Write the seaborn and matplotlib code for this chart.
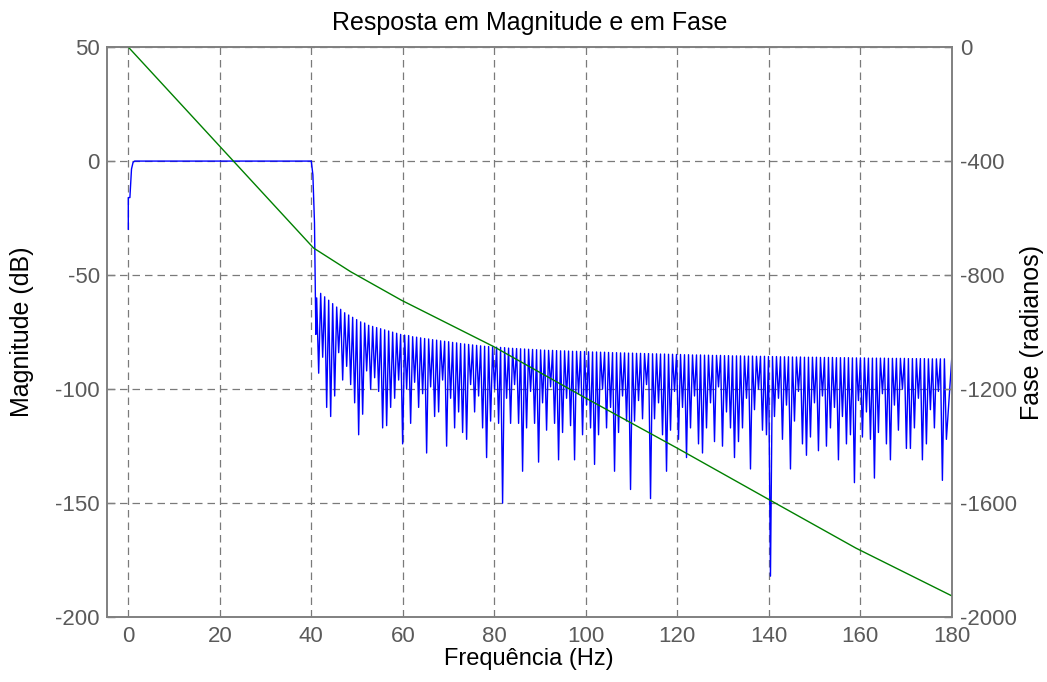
import numpy as np
import matplotlib
matplotlib.use("Agg")
import matplotlib.pyplot as plt
import seaborn as sns

# ---------------- data ----------------
# passband / transition part of the magnitude response (Hz, dB)
pass_freq = [0.0, 0.0, 0.35, 0.7, 1.05, 1.4, 40.0, 40.35, 40.7, 41.0]
pass_mag = [-30.0, -16.0, -16.0, -3.5, -0.5, 0.0, 0.0, -6.0, -27.0, -76.0]

# stopband: lobe tops and the nulls between them (one per lobe)
stop_start = 41.18   # Hz, first lobe
stop_step = 0.874    # Hz between lobes
stop_top = [
    -60, -58, -59.5, -61, -62.5, -64, -65, -66.5, -67.5, -68.5,
    -69.5, -70.5, -71, -72, -72.5, -73, -73.5, -74, -74.5, -75,
    -75.5, -76, -76.3, -76.5, -77, -77.2, -77.5, -77.8, -78, -78.3,
    -78.5, -78.8, -79, -79.2, -79.5, -79.7, -80, -80.2, -80.4, -80.6,
    -80.8, -81, -81.2, -81.3, -81.5, -81.6, -81.7, -81.8, -82, -82.1,
    -82.2, -82.3, -82.4, -82.5, -82.6, -82.7, -82.8, -82.9, -83, -83,
    -83.1, -83.2, -83.2, -83.3, -83.4, -83.4, -83.5, -83.5, -83.6, -83.7,
    -83.7, -83.8, -83.8, -83.9, -84, -84, -84.1, -84.1, -84.2, -84.2,
    -84.3, -84.3, -84.4, -84.4, -84.5, -84.5, -84.6, -84.6, -84.7, -84.7,
    -84.8, -84.8, -84.9, -84.9, -85, -85, -85, -85.1, -85.1, -85.2,
    -85.2, -85.2, -85.3, -85.3, -85.4, -85.4, -85.4, -85.5, -85.5, -85.5,
    -85.6, -85.6, -85.6, -85.7, -85.7, -85.7, -85.8, -85.8, -85.8, -85.9,
    -85.9, -85.9, -86, -86, -86, -86, -86.1, -86.1, -86.1, -86.1,
    -86.2, -86.2, -86.2, -86.2, -86.3, -86.3, -86.3, -86.3, -86.4, -86.4,
    -86.4, -86.4, -86.4, -86.5, -86.5, -86.5, -86.5, -86.5, -86.6, -86.6,
    -86.6, -86.6, -86.6, -86.7, -86.7, -86.7, -86.7, -86.7,
]
stop_dip = [
    -93, -86, -108, -112, -103, -84, -96, -90, -98, -106,
    -120, -111, -92, -100, -95, -101, -117, -116, -108, -104,
    -96, -124, -100, -115, -97, -108, -102, -128, -99, -112,
    -110, -96, -125, -104, -117, -110, -119, -122, -98, -110,
    -103, -117, -130, -114, -100, -115, -150, -104, -115, -98,
    -115, -136, -117, -101, -115, -132, -106, -118, -99, -115,
    -131, -119, -104, -116, -131, -102, -120, -107, -117, -133,
    -120, -100, -117, -108, -136, -119, -103, -114, -144, -114,
    -105, -113, -98, -148, -113, -106, -120, -136, -118, -101,
    -122, -108, -130, -117, -103, -124, -128, -117, -106, -123,
    -99, -125, -110, -117, -130, -123, -117, -104, -135, -109,
    -100, -118, -120, -182, -112, -104, -122, -107, -135, -114,
    -101, -124, -129, -121, -106, -127, -103, -125, -117, -108,
    -131, -112, -124, -120, -141, -105, -121, -110, -122, -139,
    -119, -102, -124, -131, -107, -118, -100, -126, -126, -117,
    -104, -131, -124, -109, -117, -101, -140, -122,
]
end_freq, end_mag = 180.0, -86.7

# unwrapped phase (Hz, radians)
phase_freq = [0.0, 40.5, 48.6, 59.7, 79.9, 99.5, 120.0, 139.9, 159.1, 180.0]
phase_val = [0.0, -705, -788, -888, -1051, -1227, -1407, -1586, -1758, -1925]

# axis ticks
x_ticks = [0, 20, 40, 60, 80, 100, 120, 140, 160, 180]
mag_ticks = [50, 0, -50, -100, -150, -200]
phase_ticks = [0, -400, -800, -1200, -1600, -2000]

# ---------------- build the magnitude series ----------------
lobe_f = stop_start + stop_step * np.arange(len(stop_top))
mag_f = list(pass_freq)
mag_v = list(pass_mag)
for f, t, d in zip(lobe_f, stop_top, stop_dip):
    mag_f += [f, f + stop_step / 2]
    mag_v += [t, d]
mag_f.append(end_freq)
mag_v.append(end_mag)

# ---------------- plot ----------------
sns.set_style("white")
plt.rcParams["font.family"] = ["Liberation Sans", "DejaVu Sans"]
plt.rcParams["axes.unicode_minus"] = False

fig = plt.figure(figsize=(10.47, 6.82), dpi=100)
ax = fig.add_axes([0.102, 0.095, 0.807, 0.836])

grey = "#808080"
tick_col = "#5a5a5a"

sns.lineplot(x=mag_f, y=mag_v, ax=ax, color="#0000ff", linewidth=1.0,
             estimator=None, sort=False)
ax.set_xlim(-4.7, 180)
ax.set_ylim(-200, 50)
ax.set_xticks(x_ticks)
ax.set_yticks(mag_ticks)
ax.grid(True, color="#7a7a7a", linestyle=(0, (6, 4)), linewidth=0.9)
ax.set_axisbelow(True)
ax.set_xlabel("Frequência (Hz)", fontsize=17, color="black")
ax.set_ylabel("Magnitude (dB)", fontsize=18, color="black")
ax.set_title("Resposta em Magnitude e em Fase", fontsize=18, color="black", pad=12)

ax2 = ax.twinx()
sns.lineplot(x=phase_freq, y=phase_val, ax=ax2, color="#008000", linewidth=1.0,
             estimator=None, sort=False)
ax2.set_ylim(-2000, 0)
ax2.set_yticks(phase_ticks)
ax2.set_ylabel("Fase (radianos)", fontsize=18, color="black")
ax2.grid(False)

for a in (ax, ax2):
    for s in a.spines.values():
        s.set_color(grey)
        s.set_linewidth(1.2)
        s.set_visible(True)
    a.tick_params(direction="in", length=6, width=1, colors=grey,
                  labelcolor=tick_col, labelsize=16)
ax.tick_params(axis="x", pad=6)
ax.tick_params(axis="y", pad=5)
ax2.tick_params(axis="y", pad=6)

ax.xaxis.set_label_coords(0.5, -0.054)
ax.yaxis.set_label_coords(-0.086, 0.5)
ax2.yaxis.set_label_coords(1.081, 0.5)

fig.savefig("out.png", dpi=100, facecolor="white")
